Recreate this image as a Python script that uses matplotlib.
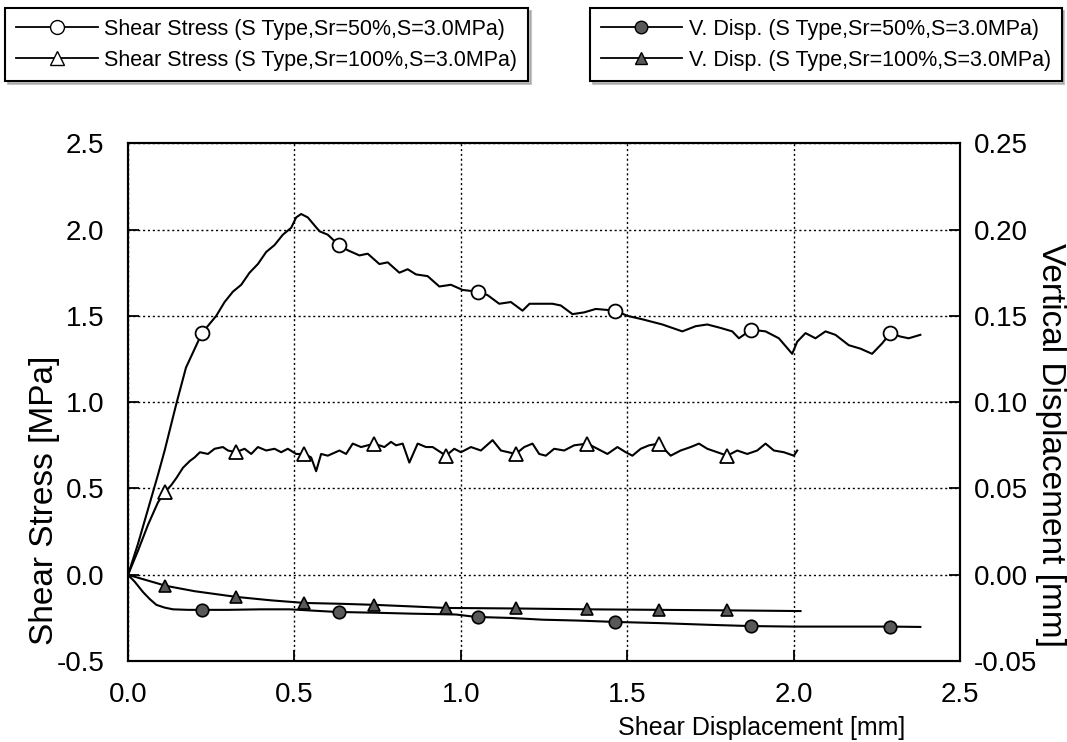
import matplotlib.pyplot as plt
from matplotlib.lines import Line2D

# Shear stress, Sr=50% (left axis)
ss50_x = [0, 0.03, 0.06, 0.09, 0.11, 0.145, 0.174, 0.222, 0.265, 0.29,
          0.315, 0.34, 0.365, 0.39, 0.415, 0.44, 0.465, 0.49, 0.505, 0.52,
          0.54, 0.575, 0.6, 0.633, 0.66, 0.695, 0.72, 0.755, 0.78, 0.815,
          0.84, 0.865, 0.9, 0.935, 0.97, 1.005, 1.05, 1.08, 1.115, 1.15,
          1.185, 1.206, 1.24, 1.275, 1.3, 1.335, 1.37, 1.405, 1.464, 1.5,
          1.545, 1.605, 1.665, 1.705, 1.74, 1.78, 1.815, 1.835, 1.872, 1.915,
          1.955, 1.995, 2.01, 2.035, 2.065, 2.095, 2.125, 2.165, 2.2, 2.235,
          2.265, 2.29, 2.32, 2.345, 2.38]
ss50_y = [0, 0.18, 0.38, 0.58, 0.72, 0.99, 1.20, 1.40, 1.50, 1.58,
          1.64, 1.68, 1.75, 1.80, 1.87, 1.91, 1.97, 2.01, 2.07, 2.09,
          2.07, 1.99, 1.97, 1.91, 1.88, 1.85, 1.86, 1.80, 1.81, 1.75,
          1.77, 1.74, 1.73, 1.67, 1.68, 1.65, 1.64, 1.62, 1.57, 1.58,
          1.53, 1.57, 1.57, 1.57, 1.56, 1.51, 1.52, 1.54, 1.53, 1.50,
          1.48, 1.45, 1.41, 1.44, 1.45, 1.43, 1.41, 1.37, 1.42, 1.41,
          1.37, 1.28, 1.35, 1.40, 1.37, 1.41, 1.39, 1.33, 1.31, 1.28,
          1.34, 1.40, 1.38, 1.37, 1.39]
ss50_mx = [0.222, 0.633, 1.05, 1.464, 1.872, 2.29]
ss50_my = [1.40, 1.91, 1.64, 1.53, 1.42, 1.40]

# Shear stress, Sr=100% (left axis)
ss100_x = [0, 0.03, 0.06, 0.09, 0.111, 0.13, 0.145, 0.165, 0.186, 0.2,
           0.216, 0.24, 0.26, 0.285, 0.3, 0.324, 0.35, 0.37, 0.39, 0.415,
           0.44, 0.46, 0.48, 0.505, 0.53, 0.55, 0.565, 0.58, 0.6, 0.635,
           0.655, 0.675, 0.7, 0.74, 0.77, 0.79, 0.805, 0.825, 0.845, 0.87,
           0.895, 0.915, 0.955, 0.98, 1.0, 1.03, 1.06, 1.095, 1.12, 1.165,
           1.19, 1.215, 1.235, 1.255, 1.28, 1.31, 1.34, 1.38, 1.41, 1.44,
           1.47, 1.495, 1.515, 1.54, 1.565, 1.595, 1.63, 1.66, 1.69, 1.715,
           1.74, 1.77, 1.80, 1.83, 1.86, 1.89, 1.915, 1.94, 1.97, 2.0,
           2.01]
ss100_y = [0, 0.14, 0.29, 0.42, 0.48, 0.52, 0.56, 0.62, 0.66, 0.68,
           0.71, 0.70, 0.73, 0.74, 0.72, 0.71, 0.73, 0.70, 0.74, 0.72,
           0.73, 0.71, 0.73, 0.70, 0.70, 0.68, 0.60, 0.70, 0.69, 0.72,
           0.70, 0.76, 0.74, 0.76, 0.74, 0.77, 0.75, 0.76, 0.65, 0.76,
           0.74, 0.74, 0.69, 0.73, 0.71, 0.74, 0.72, 0.78, 0.72, 0.70,
           0.74, 0.76, 0.70, 0.69, 0.73, 0.72, 0.75, 0.76, 0.73, 0.70,
           0.74, 0.71, 0.69, 0.73, 0.75, 0.76, 0.69, 0.72, 0.74, 0.76,
           0.73, 0.71, 0.69, 0.72, 0.70, 0.72, 0.76, 0.72, 0.71, 0.69,
           0.72]
ss100_mx = [0.111, 0.324, 0.53, 0.74, 0.955, 1.165, 1.38, 1.595, 1.80]
ss100_my = [0.48, 0.71, 0.70, 0.76, 0.69, 0.70, 0.76, 0.76, 0.69]

# Vertical displacement (right axis)
v50_x = [0, 0.02, 0.045, 0.065, 0.085, 0.11, 0.135, 0.18, 0.222, 0.3,
         0.4, 0.486, 0.625, 0.75, 0.85, 0.985, 1.045, 1.15, 1.245, 1.35,
         1.464, 1.6, 1.75, 1.872, 2.0, 2.15, 2.29, 2.38]
v50_y = [0, -0.004, -0.010, -0.014, -0.0174, -0.019, -0.020, -0.0203, -0.0203, -0.0203,
         -0.020, -0.020, -0.0215, -0.022, -0.0225, -0.023, -0.0244, -0.025, -0.026, -0.0265,
         -0.0273, -0.028, -0.029, -0.0297, -0.030, -0.030, -0.030, -0.0302]
v50_my = [-0.0203, -0.0215, -0.0244, -0.0273, -0.0297, -0.030]

v100_x = [0, 0.114, 0.2, 0.325, 0.43, 0.53, 0.64, 0.74, 0.85, 0.955,
          1.165, 1.38, 1.595, 1.80, 2.02]
v100_y = [0, -0.0064, -0.0095, -0.0128, -0.0148, -0.0163, -0.0168, -0.0174, -0.0183, -0.0192,
          -0.0195, -0.0200, -0.0203, -0.0206, -0.0210]
v100_my = [-0.0064, -0.0128, -0.0163, -0.0174, -0.0192, -0.0195, -0.0200, -0.0203, -0.0206]

labels = ['Shear Stress (S Type,Sr=50%,S=3.0MPa)',
          'Shear Stress (S Type,Sr=100%,S=3.0MPa)',
          'V. Disp. (S Type,Sr=50%,S=3.0MPa)',
          'V. Disp. (S Type,Sr=100%,S=3.0MPa)']

plt.rcParams['font.family'] = ['Liberation Sans', 'DejaVu Sans']

fig = plt.figure(figsize=(10.67, 7.42), dpi=100)
ax = fig.add_axes([0.120, 0.109, 0.780, 0.698])
ax2 = ax.twinx()

lw = 1.5
ax.plot(ss50_x, ss50_y, color='black', lw=lw)
ax.plot(ss50_mx, ss50_my, 'o', ms=10, mfc='white', mec='black', mew=1.3)
ax.plot(ss100_x, ss100_y, color='black', lw=lw)
ax.plot(ss100_mx, ss100_my, '^', ms=10, mfc='white', mec='black', mew=1.3)

ax2.plot(v50_x, v50_y, color='black', lw=lw)
ax2.plot(ss50_mx, v50_my, 'o', ms=9, mfc='0.35', mec='black', mew=1.2)
ax2.plot(v100_x, v100_y, color='black', lw=lw)
ax2.plot(ss100_mx, v100_my, '^', ms=9, mfc='0.35', mec='black', mew=1.2)

ax.set_xlim(0, 2.5)
ax.set_ylim(-0.5, 2.5)
ax2.set_ylim(-0.05, 0.25)
ax.set_xticks([0, 0.5, 1.0, 1.5, 2.0, 2.5])
ax.set_yticks([-0.5, 0, 0.5, 1.0, 1.5, 2.0, 2.5])
ax2.set_yticks([-0.05, 0, 0.05, 0.10, 0.15, 0.20, 0.25])
ax.xaxis.set_major_formatter(lambda v, p: f'{v:.1f}')
ax.yaxis.set_major_formatter(lambda v, p: f'{v:.1f}')
ax2.yaxis.set_major_formatter(lambda v, p: f'{v:.2f}')

ax.grid(True, color='black', linestyle=(0, (1.5, 2)), linewidth=1.0)
ax.tick_params(axis='x', direction='in', length=8, width=1.3, labelsize=20, pad=15)
ax.tick_params(axis='y', direction='in', length=8, width=1.3, labelsize=20, pad=17)
ax2.tick_params(direction='in', length=8, width=1.3, labelsize=20, pad=10)
for a in (ax, ax2):
    for s in a.spines.values():
        s.set_linewidth(1.5)

ax.set_xlabel('Shear Displacement [mm]', fontsize=18, ha='center', va='top')
ax.xaxis.set_label_coords(0.761, -0.106)
ax.set_ylabel('Shear Stress [MPa]', fontsize=24, rotation=90,
              ha='center', va='center', rotation_mode='anchor')
ax.yaxis.set_label_coords(-0.0998, 0.311)
ax2.set_ylabel('Vertical Displacement [mm]', fontsize=24, rotation=-90,
               ha='center', va='center', rotation_mode='anchor')
ax2.yaxis.set_label_coords(1.108, 0.417)

h_left = [Line2D([], [], color='black', lw=1.3, marker='o', ms=10, mfc='white', mec='black'),
          Line2D([], [], color='black', lw=1.3, marker='^', ms=10, mfc='white', mec='black')]
h_right = [Line2D([], [], color='black', lw=1.3, marker='o', ms=9, mfc='0.35', mec='black'),
           Line2D([], [], color='black', lw=1.3, marker='^', ms=9, mfc='0.35', mec='black')]

leg_kw = dict(fontsize=15.5, fancybox=False, shadow={'color': '0.55'}, edgecolor='black',
              framealpha=1, handlelength=3.8, borderpad=0.5, labelspacing=0.45,
              handletextpad=0.3, borderaxespad=0)
leg1 = fig.legend(h_left, labels[:2], loc='upper left', bbox_to_anchor=(0.005, 0.989), **leg_kw)
leg2 = fig.legend(h_right, labels[2:], loc='upper right', bbox_to_anchor=(0.995, 0.989), **leg_kw)
for lg in (leg1, leg2):
    lg.get_frame().set_linewidth(1.5)

fig.savefig('out.png', dpi=100)
